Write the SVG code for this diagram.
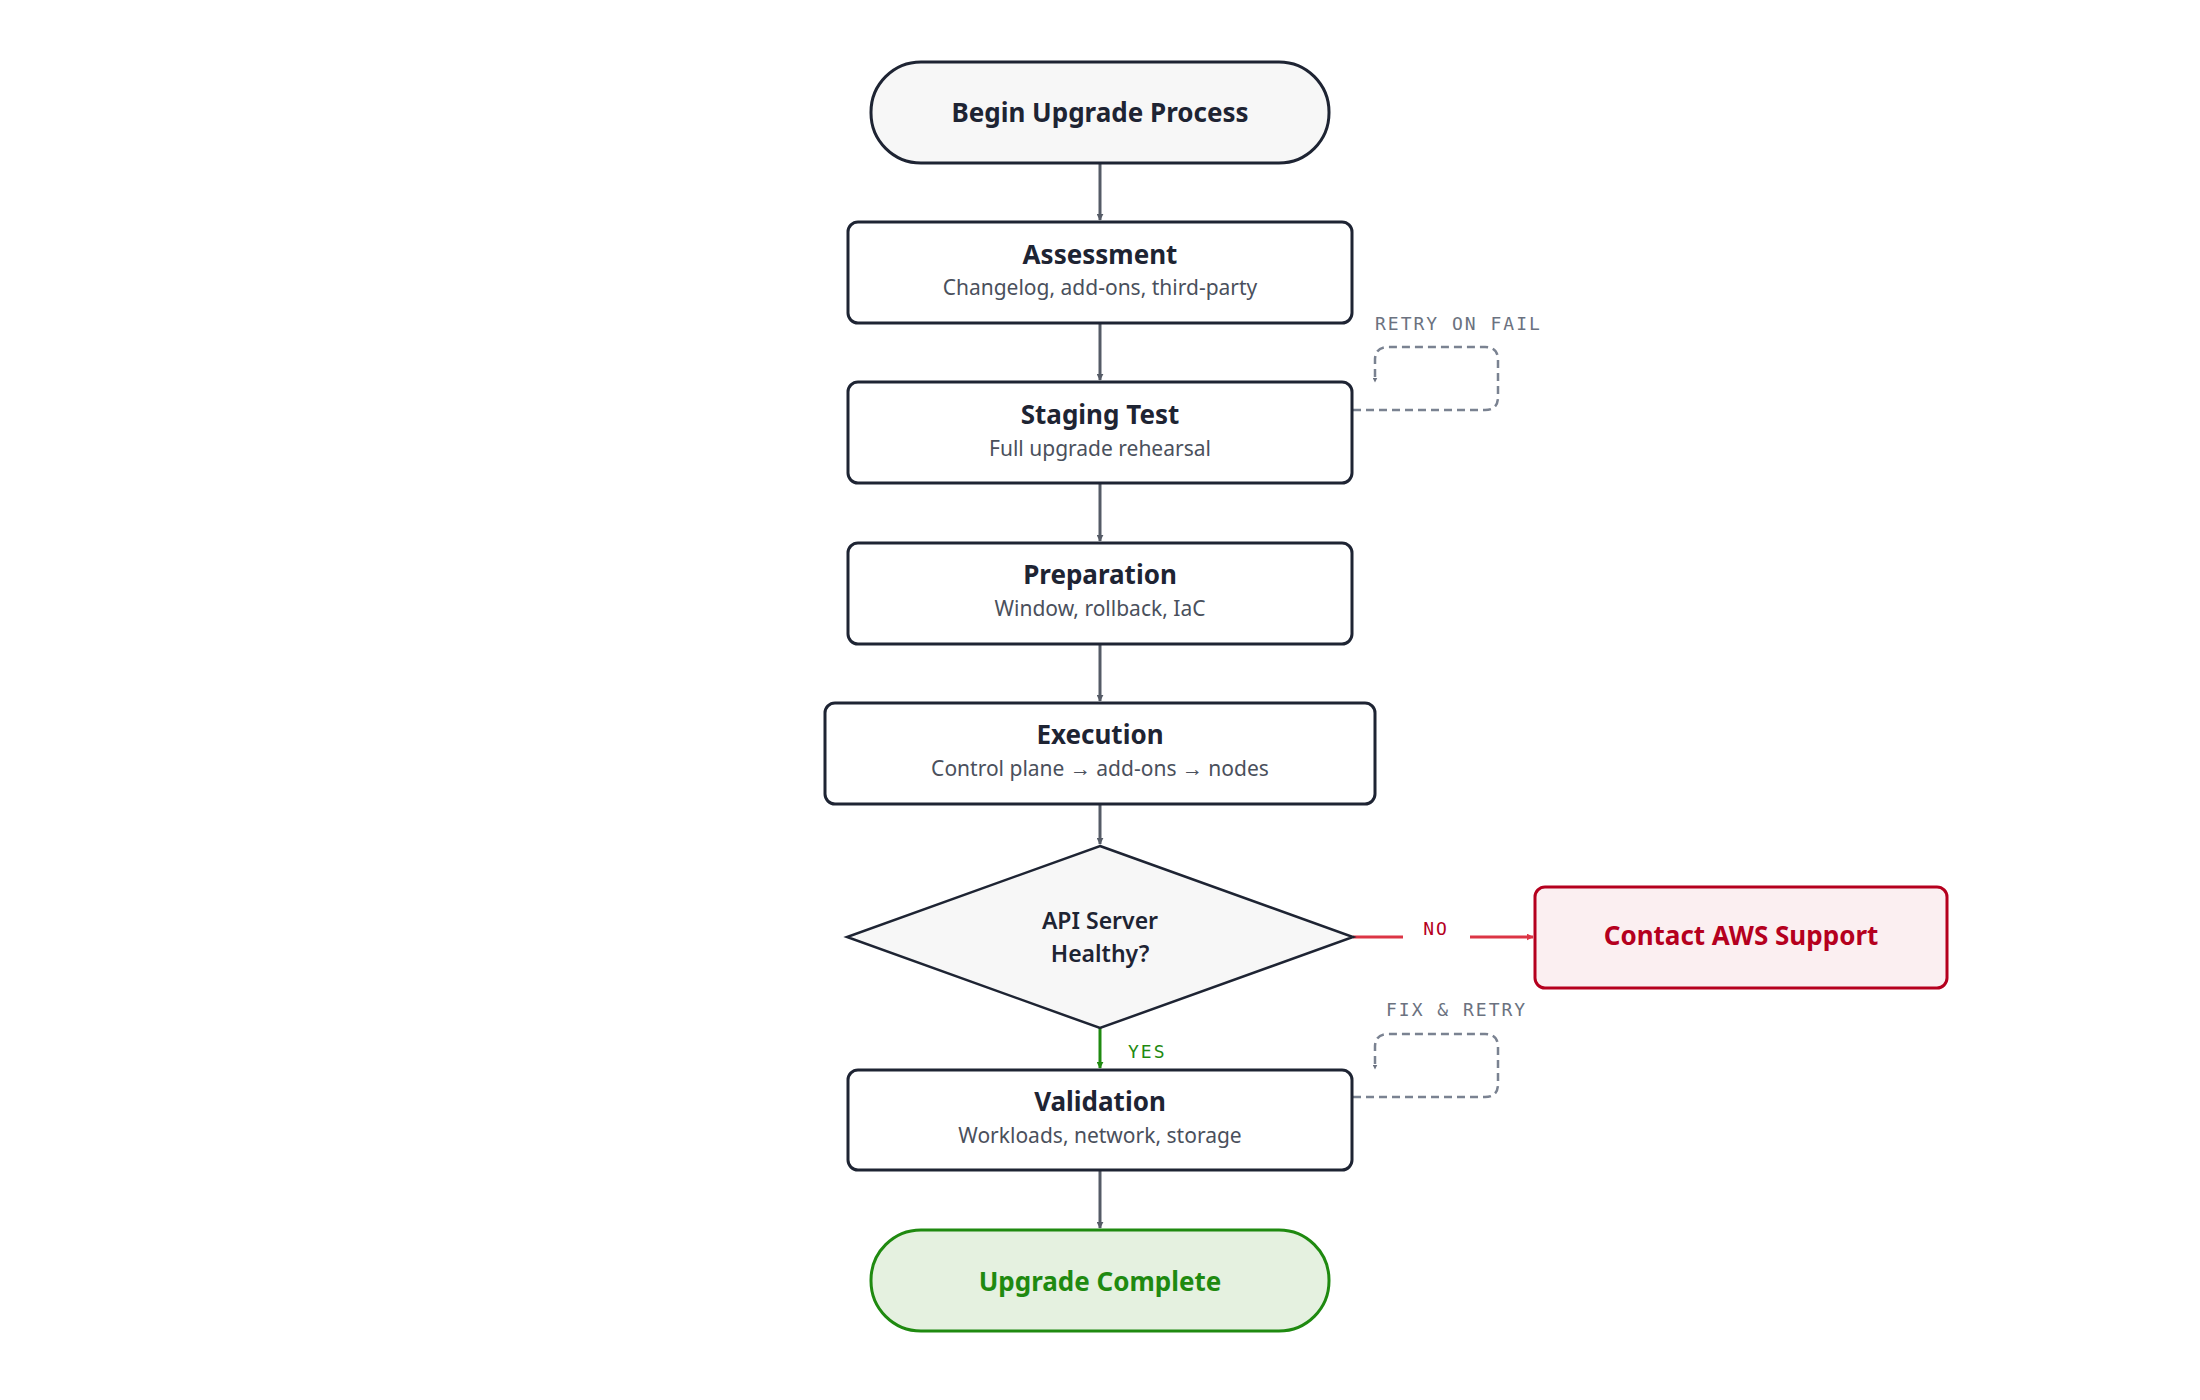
<svg xmlns="http://www.w3.org/2000/svg" width="2200" height="1400" viewBox="0 0 2200 1400">
<style>
.box{fill:#fff;stroke:#1e2433;stroke-width:3}
.t{font-family:"Noto Sans",sans-serif;font-weight:700;font-size:26px;fill:#1e2433;text-anchor:middle}
.s{font-family:"Noto Sans",sans-serif;font-size:21px;fill:#4a505c;text-anchor:middle}
.e{stroke:#555b66;stroke-width:3;fill:none}
.d{stroke:#7a8291;stroke-width:2.5;fill:none;stroke-dasharray:8 5}
.l{font-family:"DejaVu Sans Mono",monospace;font-size:18px;letter-spacing:2px}
</style>
<defs>
<marker id="a" viewBox="0 0 10 10" refX="9" refY="5" markerWidth="7" markerHeight="7" markerUnits="userSpaceOnUse" orient="auto"><path d="M0 0L10 5L0 10z" fill="#555b66"/></marker>
<marker id="ag" viewBox="0 0 10 10" refX="9" refY="5" markerWidth="7" markerHeight="7" markerUnits="userSpaceOnUse" orient="auto"><path d="M0 0L10 5L0 10z" fill="#1f8a10"/></marker>
<marker id="ar" viewBox="0 0 10 10" refX="9" refY="5" markerWidth="7" markerHeight="7" markerUnits="userSpaceOnUse" orient="auto"><path d="M0 0L10 5L0 10z" fill="#dc3545"/></marker>
<marker id="ad" viewBox="0 0 10 10" refX="9" refY="5" markerWidth="5" markerHeight="5" markerUnits="userSpaceOnUse" orient="auto"><path d="M0 0L10 5L0 10z" fill="#6b7280"/></marker>
</defs>
<rect width="2200" height="1400" fill="#fff"/>
<g id="connectors">
<path class="e" d="M1100 163V220" marker-end="url(#a)" style="marker-end:url(#a)"/>
<path class="e" d="M1100 323V380" marker-end="url(#a)"/>
<path class="e" d="M1100 483V541" marker-end="url(#a)"/>
<path class="e" d="M1100 644V701" marker-end="url(#a)"/>
<path class="e" d="M1100 804V844" marker-end="url(#a)"/>
<path d="M1100 1028V1068" stroke="#1f8a10" stroke-width="3" fill="none" marker-end="url(#ag)"/>
<path class="e" d="M1100 1170V1228" marker-end="url(#a)"/>
<path d="M1353 937H1403M1470 937H1533" stroke="#dc3545" stroke-width="3" fill="none" marker-end="url(#ar)"/>
<path class="d" d="M1353 410H1485Q1498 410 1498 397V360Q1498 347 1485 347H1388Q1375 347 1375 360V382" marker-end="url(#ad)"/>
<path class="d" d="M1353 1097H1485Q1498 1097 1498 1084V1047Q1498 1034 1485 1034H1388Q1375 1034 1375 1047V1069" marker-end="url(#ad)"/>
<text class="l" x="1375" y="330" fill="#6b7280">RETRY ON FAIL</text>
<text class="l" x="1386" y="1016" fill="#6b7280">FIX &amp; RETRY</text>
<text class="l" x="1436" y="935" fill="#b5001e" text-anchor="middle">NO</text>
<text class="l" x="1128" y="1058" fill="#1f8a10">YES</text>
</g>
<g id="begin"><rect x="871" y="62" width="458" height="101" rx="50" fill="#f7f7f7" stroke="#1e2433" stroke-width="3"/><text class="t" x="1100" y="122">Begin Upgrade Process</text></g>
<g id="assessment"><rect class="box" x="848" y="222" width="504" height="101" rx="10"/><text class="t" x="1100" y="264">Assessment</text><text class="s" x="1100" y="295">Changelog, add-ons, third-party</text></g>
<g id="staging"><rect class="box" x="848" y="382" width="504" height="101" rx="10"/><text class="t" x="1100" y="424">Staging Test</text><text class="s" x="1100" y="456">Full upgrade rehearsal</text></g>
<g id="preparation"><rect class="box" x="848" y="543" width="504" height="101" rx="10"/><text class="t" x="1100" y="584">Preparation</text><text class="s" x="1100" y="616">Window, rollback, IaC</text></g>
<g id="execution"><rect class="box" x="825" y="703" width="550" height="101" rx="10"/><text class="t" x="1100" y="744">Execution</text><text class="s" x="1100" y="776">Control plane → add-ons → nodes</text></g>
<g id="decision"><path d="M1100 846L1353 937L1100 1028L847 937Z" fill="#f7f7f7" stroke="#1e2433" stroke-width="2.5"/><text class="t" x="1100" y="929" style="font-weight:600;font-size:23px">API Server</text><text class="t" x="1100" y="962" style="font-weight:600;font-size:23px">Healthy?</text></g>
<g id="support"><rect x="1535" y="887" width="412" height="101" rx="10" fill="#fbeff1" stroke="#b5001e" stroke-width="3"/><text class="t" x="1741" y="945" style="fill:#b5001e">Contact AWS Support</text></g>
<g id="validation"><rect class="box" x="848" y="1070" width="504" height="100" rx="10"/><text class="t" x="1100" y="1111">Validation</text><text class="s" x="1100" y="1143">Workloads, network, storage</text></g>
<g id="complete"><rect x="871" y="1230" width="458" height="101" rx="50" fill="#e5f1e0" stroke="#1f8a10" stroke-width="3"/><text class="t" x="1100" y="1291" style="fill:#1f8a10">Upgrade Complete</text></g>
</svg>
